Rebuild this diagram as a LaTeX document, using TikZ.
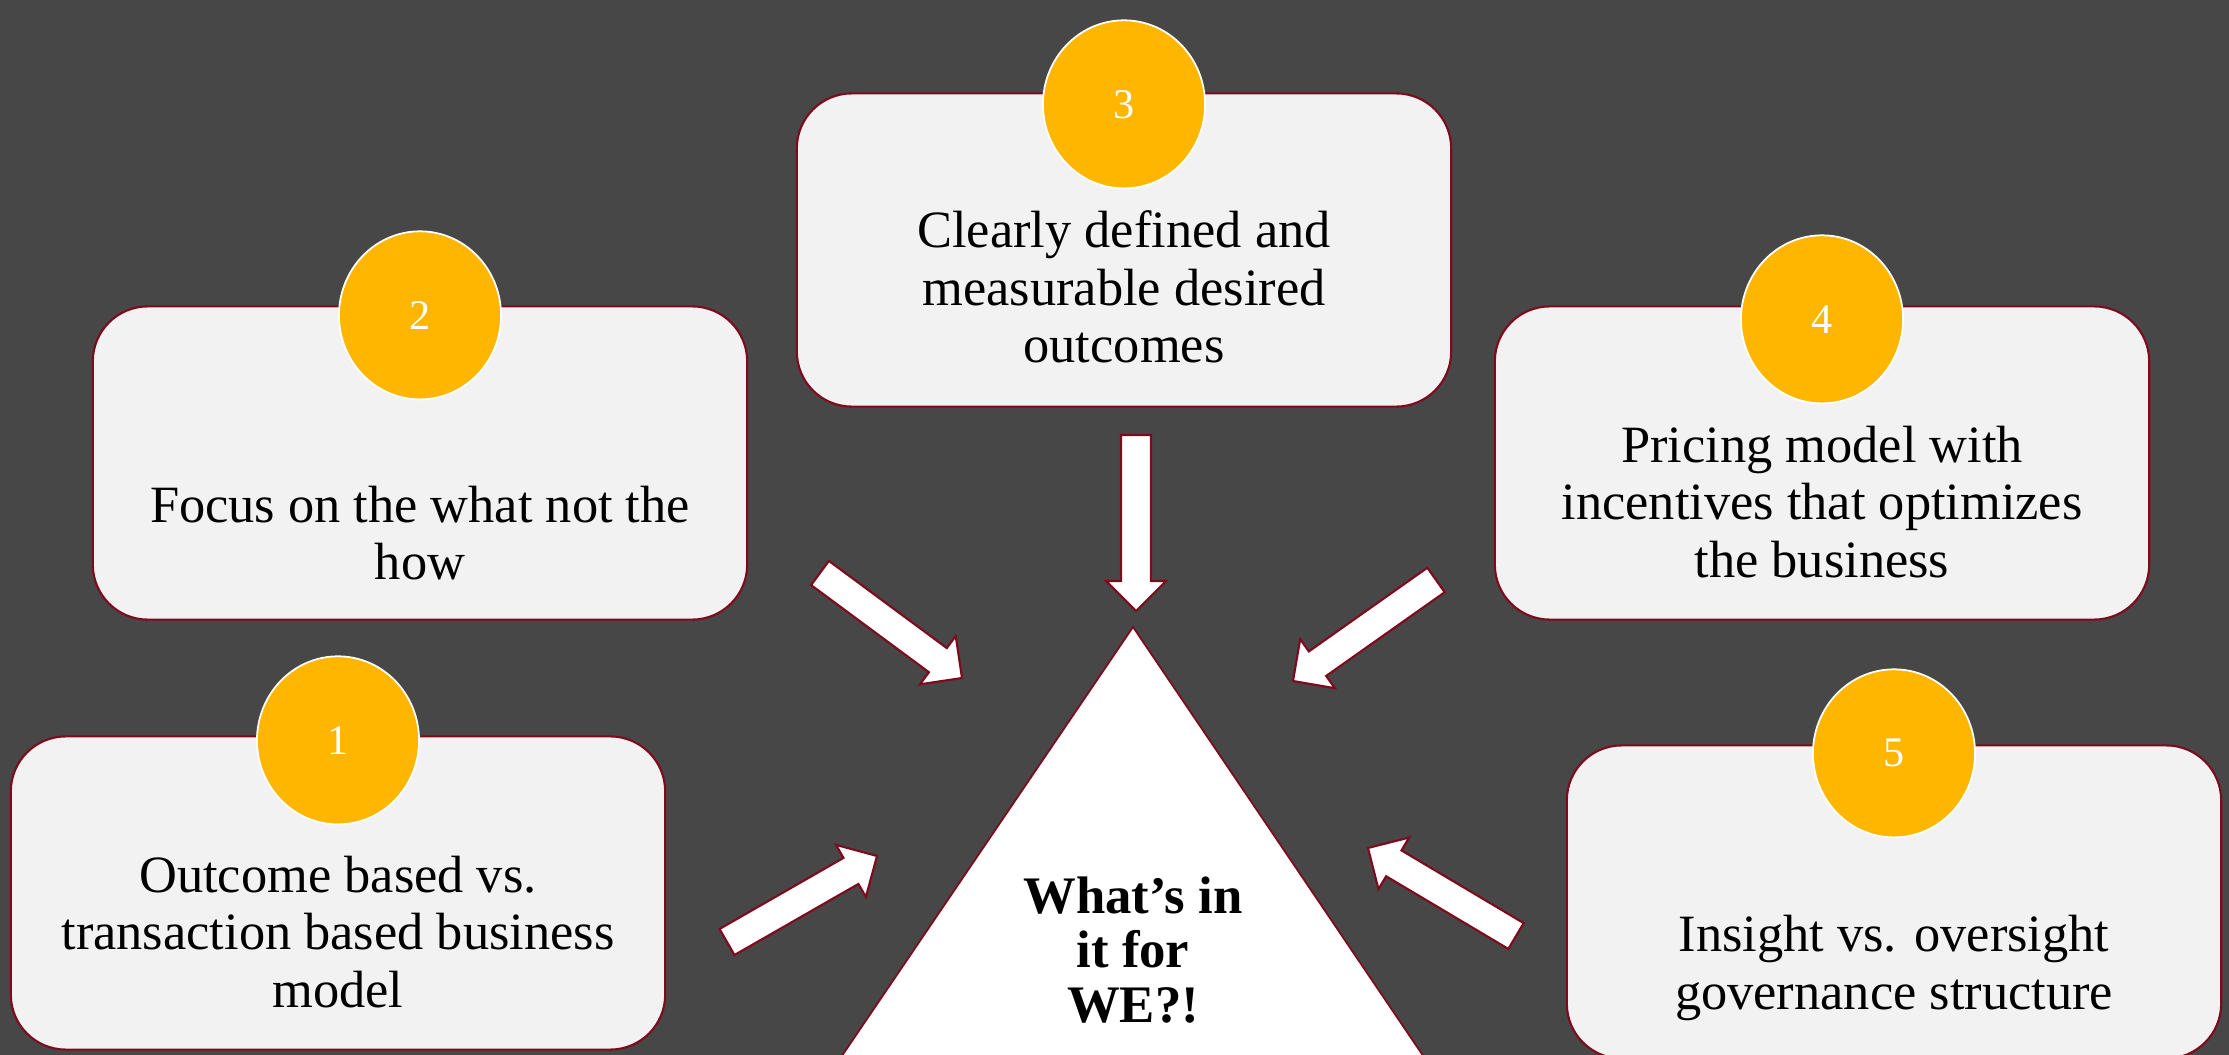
\documentclass[tikz,border=0pt]{standalone}
\usepackage{fontspec}
\setmainfont{Liberation Serif}
\usetikzlibrary{shapes.geometric,calc,positioning}

\definecolor{bg}{HTML}{474747}
\definecolor{boxfill}{HTML}{F2F2F2}
\definecolor{wine}{HTML}{7F0A1E}
\definecolor{gold}{HTML}{FFB600}

% block arrow from #1 (tail) to #2 (tip)
\newcommand{\blockarrow}[2]{%
  \coordinate (hb) at ($(#2)!0.3cm!(#1)$);
  \draw[arrowbox] ($(#1)!0.15cm!90:(#2)$) -- ($(hb)!0.15cm!90:(#2)$)
    -- ($(hb)!0.3cm!90:(#2)$) -- (#2) -- ($(hb)!0.3cm!-90:(#2)$)
    -- ($(hb)!0.15cm!-90:(#2)$) -- ($(#1)!0.15cm!-90:(#2)$) -- cycle;}

\begin{document}
\begin{tikzpicture}[x=0.01cm,y=-0.01cm,
    box/.style = {draw=wine, fill=boxfill, line width=0.6pt, rounded corners=0.55cm,
                  minimum width=6.54cm, minimum height=3.13cm},
    txt/.style = {align=center, font=\fontsize{14.9}{16.3}\selectfont},
    num/.style = {ellipse, draw=white, fill=gold, line width=0.5pt, text=white,
                  minimum width=1.62cm, minimum height=1.68cm, inner sep=0pt,
                  font=\fontsize{12}{14}\selectfont},
    arrowbox/.style = {draw=wine, fill=white, line width=0.6pt}]

  \fill[bg] (0,0) rectangle (2229,1055);
  \useasboundingbox (0,0) rectangle (2229,1055);
  \clip (0,0) rectangle (2229,1055);

  % boxes
  \node[box] (b3) at (1124,250) {};
  \node[box] (b2) at (420,463)  {};
  \node[box] (b4) at (1822,463) {};
  \node[box] (b1) at (338,893)  {};
  \node[box] (b5) at (1894,902) {};

  % numbers
  \node[num] (n1) at ([yshift=-0.05cm]b1.north) {1};
  \node[num] (n2) at ([yshift=-0.1cm]b2.north)  {2};
  \node[num] (n3) at ([yshift=-0.12cm]b3.north) {3};
  \node[num] (n4) at ([yshift=-0.14cm]b4.north) {4};
  \node[num] (n5) at ([yshift=-0.09cm]b5.north) {5};

  % texts
  \node[txt] (t1) at ([yshift=-0.39cm]b1.center) {Outcome based vs.\\transaction based business\\model};
  \node[txt] (t2) at ([yshift=-0.70cm]b2.center) {Focus on the what not the\\how};
  \node[txt] (t3) at ([yshift=-0.37cm]b3.center) {Clearly defined and\\measurable desired\\outcomes};
  \node[txt] (t4) at ([yshift=-0.39cm]b4.center) {Pricing model with\\incentives that optimizes\\the business};
  \node[txt] (t5) at ([yshift=-0.66cm]b5.center) {Insight vs. oversight\\governance structure};

  % centre triangle
  \coordinate (apex) at (1133,627);
  \draw[wine, fill=white, line width=0.5pt] (apex) -- (1453,1100) -- (812,1100) -- cycle;
  \node[align=center, font=\bfseries\fontsize{15}{15.4}\selectfont] (we) at (1133,950)
    {What’s in\\it for\\WE?!};

  % arrows
  \coordinate (a1s) at (727,942);  \coordinate (a1e) at (877,856);
  \coordinate (a2s) at (820,573);  \coordinate (a2e) at (962,678);
  \coordinate (a3s) at (1136,435); \coordinate (a3e) at (1136,611);
  \coordinate (a4s) at (1436,580); \coordinate (a4e) at (1293,681);
  \coordinate (a5s) at (1516,936); \coordinate (a5e) at (1368,848);
  \blockarrow{a1s}{a1e}
  \blockarrow{a2s}{a2e}
  \blockarrow{a3s}{a3e}
  \blockarrow{a4s}{a4e}
  \blockarrow{a5s}{a5e}

\end{tikzpicture}
\end{document}
